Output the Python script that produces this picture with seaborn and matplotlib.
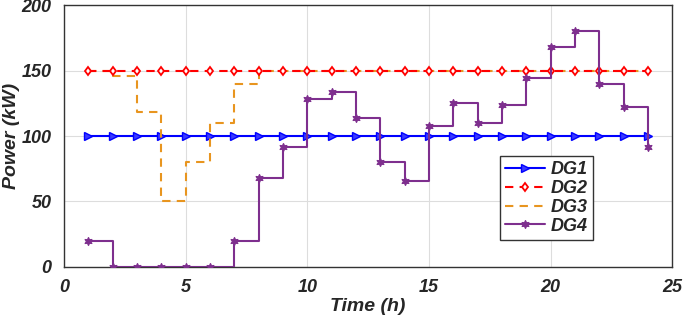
import matplotlib
matplotlib.use("Agg")
import matplotlib.pyplot as plt
import seaborn as sns
import pandas as pd

hours = list(range(1, 25))
dg1 = [100] * 24
dg2 = [150] * 24
dg3 = [150, 146, 118, 50, 80, 110, 140] + [150] * 17
dg4 = [20, 0, 0, 0, 0, 0, 20, 68, 92, 128, 134, 114, 80, 66, 108, 125, 110, 124, 144, 168, 180, 140, 122, 92]

sns.set_theme(style="whitegrid")
plt.rcParams['font.family'] = ['Liberation Sans', 'DejaVu Sans']

fig = plt.figure(figsize=(6.86, 3.22), dpi=100)
ax = fig.add_axes([0.0933, 0.171, 0.8867, 0.813])

sns.lineplot(x=hours, y=dg1, ax=ax, color='#0000FF', lw=1.5, drawstyle='steps-post',
             marker='>', markersize=5.5, markerfacecolor='#3A3AFF', markeredgecolor='#0000FF',
             markeredgewidth=1.0, label='DG1')
sns.lineplot(x=hours, y=dg3, ax=ax, color='#E8951F', lw=1.5, drawstyle='steps-post',
             dashes=(4, 3), label='DG3', zorder=2)
sns.lineplot(x=hours, y=dg2, ax=ax, color='#FF0000', lw=1.5, drawstyle='steps-post',
             dashes=(4, 3), marker='d', markersize=4.5, markerfacecolor='white',
             markeredgecolor='#FF0000', markeredgewidth=1.3, label='DG2', zorder=3)
sns.lineplot(x=hours, y=dg4, ax=ax, color='#7E2F8E', lw=1.5, drawstyle='steps-post',
             marker=(6, 1, 0), markersize=6, markerfacecolor='#7E2F8E',
             markeredgecolor='#7E2F8E', label='DG4', zorder=4)

ax.set_xlim(0, 25)
ax.set_ylim(0, 200)
ax.set_xticks([0, 5, 10, 15, 20, 25])
ax.set_yticks([0, 50, 100, 150, 200])
ax.grid(True, color='#DDDDDD', lw=0.8)
for s in ax.spines.values():
    s.set_color('#333333')
    s.set_linewidth(1.0)
ax.set_facecolor('white')
ax.tick_params(axis='both', labelsize=13, pad=3, colors='#262626')
for lab in ax.get_xticklabels() + ax.get_yticklabels():
    lab.set_fontweight('bold')
    lab.set_fontstyle('italic')
ax.set_xlabel('Time (h)', fontsize=14, fontweight='bold', fontstyle='italic', labelpad=1, color='#262626')
ax.set_ylabel('Power (kW)', fontsize=14, fontweight='bold', fontstyle='italic', labelpad=1, color='#262626')

handles, labels = ax.get_legend_handles_labels()
order = [labels.index(n) for n in ['DG1', 'DG2', 'DG3', 'DG4']]
leg = ax.legend([handles[i] for i in order], [labels[i] for i in order],
                loc='lower left', bbox_to_anchor=(0.702, 0.068), frameon=True,
                fancybox=False, edgecolor='#333333', framealpha=1,
                prop={'weight': 'bold', 'style': 'italic', 'size': 13},
                handlelength=2.2, handletextpad=0.3, labelspacing=0.1, borderpad=0.3)
leg.get_frame().set_linewidth(1.0)

fig.savefig('out.png', dpi=100)
